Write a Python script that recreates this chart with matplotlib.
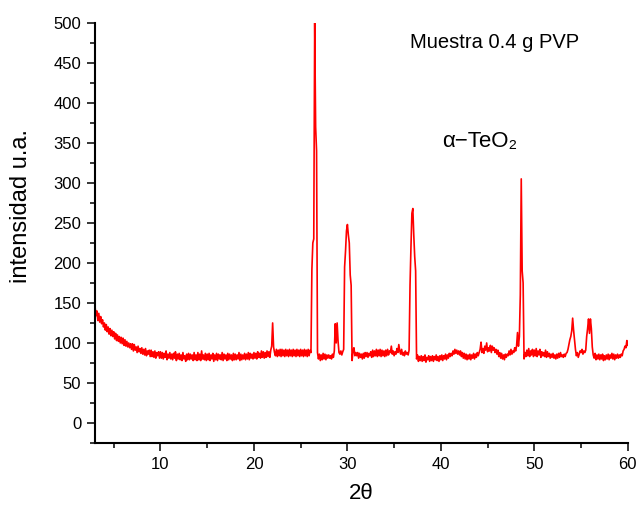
import numpy as np
import matplotlib
matplotlib.use("Agg")
import matplotlib.pyplot as plt
from matplotlib.ticker import MultipleLocator

plt.rcParams['font.family'] = ['Liberation Sans', 'DejaVu Sans']

# 2theta grid, 0.1 deg step from 3 to 60
two_theta = np.round(np.arange(3.0, 60.001, 0.1), 1)

# intensity, one row per degree
intensity = [
    145, 134, 140, 128, 137, 126, 133, 124, 129, 120,  # 3
    125, 116, 123, 114, 120, 111, 118, 109, 116, 108,  # 4
    114, 105, 112, 103, 110, 102, 108, 100, 107, 99,   # 5
    106, 97, 104, 96, 102, 95, 100, 94, 99, 92,        # 6
    99, 90, 98, 91, 95, 88, 96, 89, 93, 87,            # 7
    94, 86, 92, 85, 93, 84, 90, 86, 91, 83,            # 8
    91, 83, 89, 82, 90, 81, 88, 84, 89, 81,            # 9
    89, 81, 88, 80, 87, 82, 90, 79, 86, 81,            # 10
    88, 80, 86, 79, 87, 81, 89, 78, 86, 80,            # 11
    87, 79, 85, 78, 88, 80, 84, 77, 86, 79,            # 12
    87, 79, 86, 80, 85, 78, 88, 79, 85, 78,            # 13
    88, 79, 86, 78, 90, 80, 85, 79, 87, 78,            # 14
    86, 79, 87, 78, 85, 80, 87, 77, 85, 79,            # 15
    87, 78, 86, 80, 85, 79, 88, 78, 86, 80,            # 16
    85, 78, 87, 79, 86, 80, 85, 78, 87, 79,            # 17
    86, 79, 85, 80, 88, 78, 86, 79, 85, 80,            # 18
    87, 79, 86, 80, 88, 79, 87, 81, 86, 80,            # 19
    88, 81, 87, 80, 89, 82, 87, 81, 90, 82,            # 20
    89, 81, 88, 82, 90, 83, 89, 82, 91, 96,            # 21
    125, 95, 88, 84, 92, 83, 91, 84, 92, 83,           # 22
    92, 84, 91, 83, 92, 84, 91, 83, 92, 84,            # 23
    91, 83, 92, 84, 91, 83, 92, 84, 91, 83,            # 24
    92, 84, 91, 83, 92, 84, 91, 83, 92, 84,            # 25
    91, 88, 192, 225, 230, 500, 370, 340, 88, 80,      # 26
    86, 78, 85, 79, 87, 80, 86, 79, 85, 81,            # 27
    85, 81, 84, 80, 86, 82, 90, 124, 100, 125,         # 28
    102, 88, 86, 90, 85, 89, 92, 195, 215, 240,        # 29
    248, 235, 225, 185, 172, 78, 90, 94, 84, 88,       # 30
    84, 88, 81, 87, 82, 86, 80, 87, 81, 88,            # 31
    83, 88, 82, 87, 84, 89, 82, 91, 83, 90,            # 32
    84, 92, 83, 91, 84, 92, 83, 91, 84, 90,            # 33
    83, 91, 84, 92, 85, 90, 88, 96, 86, 90,            # 34
    84, 89, 86, 93, 88, 98, 90, 86, 92, 85,            # 35
    88, 84, 90, 86, 88, 85, 91, 172, 220, 262,         # 36
    268, 235, 208, 190, 80, 85, 77, 83, 78, 84,        # 37
    77, 83, 78, 85, 76, 82, 79, 84, 77, 83,            # 38
    78, 84, 77, 83, 79, 85, 78, 83, 77, 84,            # 39
    79, 85, 78, 84, 80, 86, 79, 85, 81, 87,            # 40
    83, 87, 84, 90, 86, 92, 87, 91, 86, 90,            # 41
    85, 90, 83, 88, 81, 87, 80, 86, 79, 85,            # 42
    80, 86, 79, 85, 81, 87, 80, 86, 82, 88,            # 43
    84, 88, 92, 101, 88, 93, 87, 96, 91, 100,          # 44
    89, 94, 90, 97, 88, 96, 91, 94, 88, 92,            # 45
    86, 91, 83, 88, 81, 87, 80, 85, 79, 86,            # 46
    82, 86, 84, 90, 85, 92, 86, 90, 88, 94,            # 47
    90, 96, 113, 96, 108, 160, 305, 190, 175, 80,      # 48
    88, 83, 91, 84, 93, 83, 90, 85, 92, 83,            # 49
    91, 84, 93, 83, 90, 85, 92, 82, 89, 84,            # 50
    88, 83, 91, 82, 89, 83, 87, 81, 86, 82,            # 51
    87, 81, 85, 80, 86, 81, 87, 82, 88, 83,            # 52
    85, 82, 86, 83, 87, 88, 92, 98, 104, 108,          # 53
    115, 131, 116, 104, 92, 84, 88, 82, 86, 90,        # 54
    88, 92, 86, 90, 88, 91, 108, 118, 130, 112,        # 55
    130, 118, 95, 85, 81, 87, 79, 85, 80, 86,          # 56
    79, 85, 80, 86, 78, 84, 79, 85, 80, 86,            # 57
    79, 85, 81, 87, 80, 86, 79, 85, 81, 86,            # 58
    81, 85, 82, 86, 84, 90, 92, 96, 94, 103,           # 59
    97,                                                # 60
]

fig = plt.figure(figsize=(6.38, 5.08), dpi=100)
ax = fig.add_axes([0.149, 0.128, 0.835, 0.827])

ax.plot(two_theta, intensity, color='#ff0000', linewidth=1.2)

ax.set_xlim(3, 60)
ax.set_ylim(-25, 500)
ax.xaxis.set_major_locator(MultipleLocator(10))
ax.xaxis.set_minor_locator(MultipleLocator(5))
ax.yaxis.set_major_locator(MultipleLocator(50))
ax.yaxis.set_minor_locator(MultipleLocator(25))

ax.spines['top'].set_visible(False)
ax.spines['right'].set_visible(False)
ax.spines['left'].set_linewidth(1.5)
ax.spines['bottom'].set_linewidth(1.5)
ax.tick_params(which='major', direction='out', length=6, width=1.1,
               labelsize=12, pad=4)
ax.tick_params(which='minor', direction='out', length=3.3, width=1.1)

ax.set_xlabel('2θ', fontsize=16, labelpad=8)
ax.set_ylabel('intensidad u.a.', fontsize=17)
ax.yaxis.set_label_coords(-0.118, 0.564)

ax.text(36.7, 475, 'Muestra 0.4 g PVP', fontsize=14.5, ha='left', va='center')
ax.text(40.1, 352, 'α\u2212TeO\u2082', fontsize=16, ha='left', va='center')

fig.savefig('out.png', dpi=100)
